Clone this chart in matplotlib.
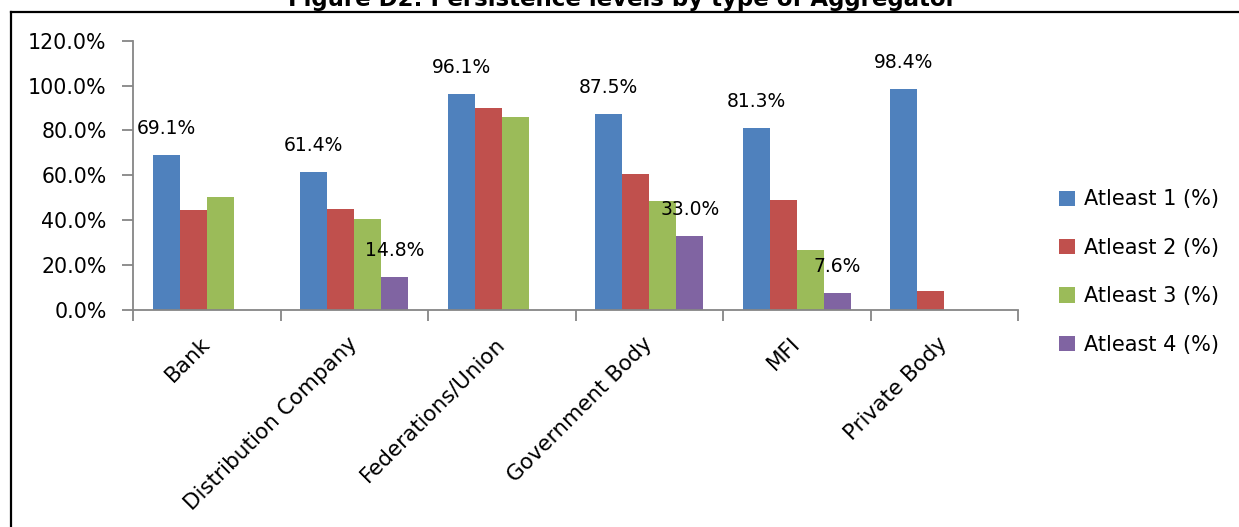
import numpy as np
import matplotlib
matplotlib.use("Agg")
import matplotlib.pyplot as plt
from matplotlib.lines import Line2D
from matplotlib.patches import Patch

# Persistence levels by aggregator type (percent of members)
categories = ["Bank", "Distribution Company", "Federations/Union",
              "Government Body", "MFI", "Private Body"]
series_names = ["Atleast 1 (%)", "Atleast 2 (%)", "Atleast 3 (%)", "Atleast 4 (%)"]
atleast_1 = [69.1, 61.4, 96.1, 87.5, 81.3, 98.4]
atleast_2 = [44.4, 44.9, 89.9, 60.7, 48.9, 8.4]
atleast_3 = [50.3, 40.6, 85.9, 48.4, 26.8, np.nan]
atleast_4 = [np.nan, 14.8, np.nan, 33.0, 7.6, np.nan]
labelled_series = [0, 3]  # series whose bars carry value labels

colors = ["#4F81BD", "#C0504D", "#9BBB59", "#8064A2"]
axis_gray = "#868686"

plt.rcParams["font.family"] = ["DejaVu Sans"]

W, H = 1239, 527
fig = plt.figure(figsize=(W / 100, H / 100), dpi=100)

# axes placement in pixels
left, right, top, bottom = 133, 1018, 40.7, 310
ax = fig.add_axes([left / W, 1 - bottom / H, (right - left) / W, (bottom - top) / H])

all_series = [atleast_1, atleast_2, atleast_3, atleast_4]
n = len(all_series)
bar_w = 0.183
x = np.arange(len(categories))

for i, (vals, col) in enumerate(zip(all_series, colors)):
    offs = (i - (n - 1) / 2) * bar_w
    vals = np.asarray(vals, dtype=float)
    ax.bar(x + offs, np.nan_to_num(vals), width=bar_w, color=col,
           edgecolor="none", label=series_names[i], zorder=2)
    if i in labelled_series:
        for xi, v in zip(x + offs, vals):
            if np.isnan(v):
                continue
            ax.annotate(f"{v:.1f}%", xy=(xi, v), xytext=(0, 12.2),
                        textcoords="offset points", ha="center", va="bottom",
                        fontsize=13.5, color="black", zorder=3)

ax.set_xlim(-0.5, len(categories) - 0.5)
ax.set_ylim(0, 120)
ax.set_yticks(np.arange(0, 121, 20))
ax.set_yticklabels([f"{t:.1f}%" for t in np.arange(0, 121, 20)], fontsize=14.8)

# category boundaries carry the tick marks, labels sit at the centres
ax.set_xticks(x)
ax.set_xticklabels(categories, rotation=45, ha="right", rotation_mode="anchor",
                   fontsize=15.5)
ax.set_xticks(np.arange(-0.5, len(categories)), minor=True)
ax.tick_params(axis="x", which="major", length=0, pad=22)
ax.tick_params(axis="x", which="minor", length=8, width=1.3, color=axis_gray,
               direction="out")
ax.tick_params(axis="y", length=8, width=1.3, color=axis_gray, pad=11)
for lab in ax.get_xticklabels():
    lab.set_verticalalignment("center")

for s in ["top", "right"]:
    ax.spines[s].set_visible(False)
for s in ["left", "bottom"]:
    ax.spines[s].set_color(axis_gray)
    ax.spines[s].set_linewidth(1.3)

handles = [Patch(facecolor=c, edgecolor="none") for c in colors]
fig.legend(handles, series_names, loc="center left",
           bbox_to_anchor=(1059 / W, 1 - 272 / H), frameon=False,
           fontsize=15, handlelength=0.75, handleheight=0.75,
           handletextpad=0.45, labelspacing=1.36, borderpad=0, borderaxespad=0)

# title, mostly above the visible area
fig.text(622 / W, 1 - 6 / H, "Figure D2: Persistence levels by type of Aggregator",
         ha="center", va="baseline", fontsize=16.5, fontweight="bold")

# outer frame (left and top edges)
fig.add_artist(Line2D([11 / W, 11 / W], [0, 1 - 12 / H], transform=fig.transFigure,
                      color="black", linewidth=1.6))
fig.add_artist(Line2D([11 / W, 1], [1 - 12 / H, 1 - 12 / H], transform=fig.transFigure,
                      color="black", linewidth=1.6))

fig.savefig("out.png", dpi=100, facecolor="white")
